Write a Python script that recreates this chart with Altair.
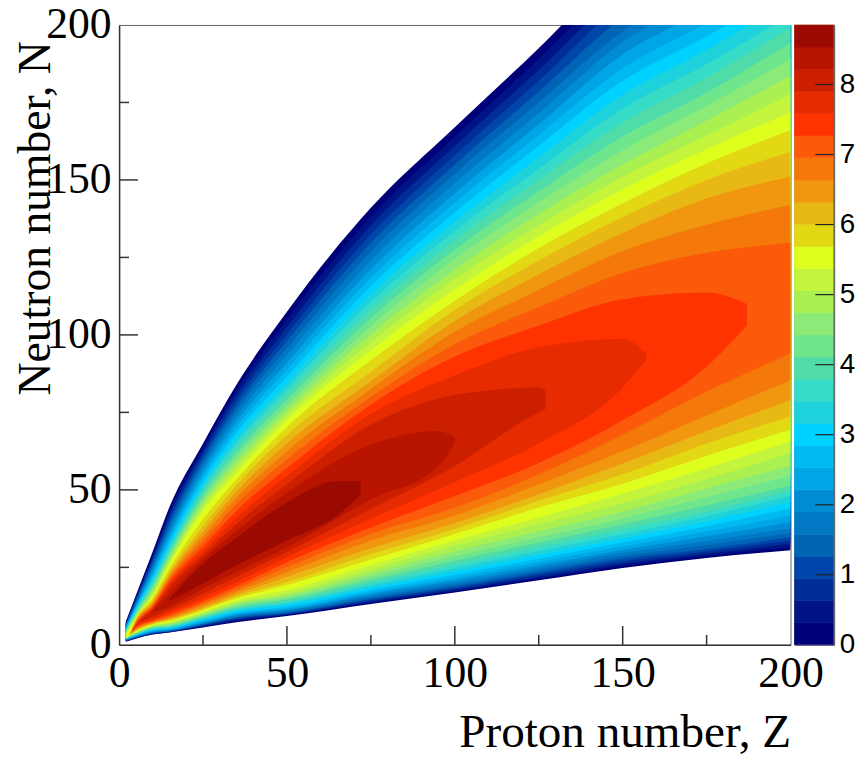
import altair as alt
import pandas as pd

Z_COLS = [2, 5, 10, 15, 25, 35, 50, 75, 100, 125, 150, 175, 200]
_ = None
LOW = [
 [1.0,2.0,3.3,4.0,5.6,7.3,9.3,13.2,16.9,20.8,24.8,28.0,30.5],
 [1.1,2.1,3.4,4.1,5.8,7.7,9.6,13.6,17.3,21.4,25.5,28.7,31.5],
 [1.2,2.2,3.6,4.2,6.0,8.1,9.8,14.0,17.7,21.9,26.2,29.4,32.6],
 [1.3,2.3,3.7,4.3,6.3,8.4,10.0,14.4,18.2,22.6,27.0,30.1,33.7],
 [1.4,2.4,3.8,4.4,6.5,8.7,10.3,14.8,18.7,23.2,27.8,30.9,34.7],
 [1.5,2.5,3.9,4.5,6.7,9.0,10.6,15.3,19.3,24.0,28.6,32.2,36.0],
 [1.6,2.65,4.1,4.7,6.9,9.3,11.0,15.8,20.0,24.8,29.6,33.5,37.5],
 [1.7,2.8,4.3,4.8,7.2,9.7,11.3,16.4,20.8,25.7,30.6,35.0,39.6],
 [1.75,2.9,4.5,5.0,7.5,10.0,11.8,17.0,21.6,26.7,31.8,36.6,41.7],
 [1.8,3.05,4.7,5.2,7.9,10.4,12.3,17.7,22.6,27.8,33.0,38.3,44.0],
 [1.85,3.2,4.9,5.4,8.2,10.8,12.9,18.4,23.6,29.0,34.3,39.8,46.0],
 [1.9,3.3,5.1,5.6,8.5,11.3,13.4,19.2,24.7,30.2,35.7,41.5,48.0],
 [2.0,3.45,5.3,5.8,8.8,11.7,13.9,20.0,25.9,31.5,37.2,43.0,49.7],
 [2.05,3.6,5.5,6.1,9.1,12.1,14.6,20.9,27.2,33.0,38.9,45.0,51.3],
 [2.1,3.75,5.7,6.4,9.5,12.7,15.2,21.9,28.6,34.7,40.8,47.7,54.5],
 [2.2,3.9,5.9,6.7,9.9,13.2,15.9,23.0,30.2,36.6,43.0,50.5,57.7],
 [2.25,4.0,6.1,7.0,10.3,13.7,16.6,24.3,32.0,38.9,45.7,53.5,62.0],
 [2.3,4.2,6.3,7.3,10.7,14.4,17.7,25.8,33.7,41.1,48.8,57.0,65.7],
 [_,4.4,6.6,7.7,11.2,15.0,19.3,27.5,35.8,44.3,52.0,61.0,69.4],
 [_,4.6,6.8,8.1,11.6,15.6,20.3,29.3,37.4,46.5,55.0,65.0,73.7],
 [_,4.8,7.0,8.4,12.0,16.3,22.0,31.2,39.3,48.6,58.5,69.0,79.0],
 [_,5.0,7.2,8.7,12.7,17.1,23.5,33.7,41.7,51.8,62.5,74.0,85.4],
 [_,5.3,7.5,9.1,13.3,18.0,25.1,35.8,44.3,55.0,67.8,81.7,94.0],
 [_,5.6,7.8,9.7,14.1,19.0,26.7,37.9,48.0,58.7,72.5,89.7,_],
 [_,6.0,8.2,10.4,15.2,20.3,28.3,40.6,52.5,65.0,83.0,_,_],
 [_,_,9.0,11.3,16.6,22.0,29.9,43.8,57.7,75.0,_,_,_],
 [_,_,_,12.3,18.2,23.5,31.5,47.0,_,_,_,_,_],
 [_,_,_,_,19.8,25.7,33.7,_,_,_,_,_,_],
]
HIGH = [
 [7.5,16,30,44.5,65,84,107.5,141,167,192.5,219,236,252],
 [7.3,15.5,29.1,43.1,63.7,82.3,105,138.2,164,189,215,232,247.5],
 [7,15,28.2,41.8,62.4,80.6,102.5,135.3,161,185.5,211,227.5,243],
 [6.7,14.5,27.3,40.5,61.1,78.9,100.2,132.5,158,182,207,223,239],
 [6.4,14,26.4,39.3,59.8,77.2,98,129.7,155,178.5,202.5,218.5,234.5],
 [6.2,13.5,25.5,38,58.5,75.5,95.7,126.9,152,175,198,214,230],
 [5.9,13,24.6,36.7,57.2,73.8,93.4,124,149,171.5,194.5,209.5,225.5],
 [5.6,12.6,23.7,35.5,55.8,72.1,91,121.2,145.7,168,190.5,205,221],
 [5.4,12.2,22.8,34.3,54.4,70.3,88.8,118.4,142.6,164.5,186,200.6,217],
 [5.2,11.8,21.9,33.2,53,68.5,86.5,115.8,139.5,161,182,196.3,212.5],
 [5,11.4,21.1,32.2,51.7,66.8,84.6,113.2,136.5,157.3,177.5,192,208],
 [4.8,11,20.3,31.2,50.5,65.2,82.7,110.6,133.5,153.6,173,187.3,203.5],
 [4.5,10.6,19.6,30.3,49.3,63.6,80.9,108,130.5,150,168.5,183,199],
 [4.2,10.2,18.8,29.4,48.1,62,79,105.4,127.5,146.3,164,178.2,194.2],
 [4,9.8,18,28.5,46.9,60.4,77.3,102.8,124.5,142.7,159.5,173.9,188.9],
 [3.8,9.4,17.2,27.6,45.7,58.8,75.7,100.2,121,139,155,169.1,183.5],
 [3.5,9,16.5,26.8,44.5,57.2,74.1,97.6,118,135.4,151,164.3,177.7],
 [3.2,8.7,15.8,26,43.3,55.5,72.6,95,114.7,131.8,147,159.9,171.8],
 [_,8.3,15,24.6,40.5,53.5,70.3,91.8,111,128,142.5,155.3,166],
 [_,8,14.3,23.5,38.3,51.5,67.7,88,108,124,138,150,159],
 [_,7.7,13.7,22.7,36.5,49.5,65,85,104.5,119.5,132.9,144,151],
 [_,7.4,13.2,21.9,34.9,47.5,62.5,82.5,101,114.5,127,135.5,141.9],
 [_,7.1,12.7,21.2,33.3,45.5,59.8,80,97,109,120,126.5,129.7],
 [_,6.8,12.3,20.3,31.7,43.3,57,77.5,93,103,111.5,113.7,_],
 [_,6.5,11.9,19.5,30.2,41,54.5,74.5,87,96,98.7,_,_],
 [_,_,11.4,18.5,28.9,39,51.8,71,80.6,83,_,_,_],
 [_,_,_,16.6,27.6,36.8,49,64.6,_,_,_,_,_],
 [_,_,_,_,26.2,34.5,46,_,_,_,_,_,_],
]
# contour ends: level -> (Z, lower N, upper N)
TIPS = {
 18: [(3, 2.9, 3.3)], 19: [(3.2, 3.2, 3.5)], 20: [(3.4, 3.5, 3.8)],
 21: [(3.6, 3.8, 4.1)], 22: [(3.8, 4.0, 4.4)],
 23: [(4.0, 4.3, 4.8), (187, 103, 110)],
 24: [(4.3, 4.6, 5.2), (157, 92, 94)],
 25: [(6.5, 7.5, 7.9), (127, 76, 82)],
 26: [(10, 10.4, 11), (95, 57.5, 69), (100, 65, 67)],
 27: [(15, 14.2, 14.8), (65, 41.7, 52.9), (72, 48.5, 52.8)],
}
BAND_COLORS = [
 "#000078", "#001487", "#002d96", "#0046aa", "#0064b4", "#0078c3", "#008cd2",
 "#00a5e6", "#00b9f0", "#00d2ff", "#1ed2dc", "#37dcc8", "#50dca8", "#70e68c",
 "#8ceb78", "#aaf050", "#c4f53c", "#deff1e", "#e2d814", "#e8b814", "#f0960f",
 "#f5780a", "#fa5a0a", "#ff3300", "#e62b00", "#cc1f00", "#b81400", "#9b0a00",
]
BAR_TOP = 8.85
BAR_TICKS = [0, 1, 2, 3, 4, 5, 6, 7, 8]
MAJOR_TICKS = [50, 100, 150]
MINOR_TICKS = [25, 75, 125, 175]
AXIS_VALUES = [0, 50, 100, 150, 200]

rows = []
for lev in range(28):
    pts = [(z, lo, hi) for z, lo, hi in zip(Z_COLS, LOW[lev], HIGH[lev]) if lo is not None]
    pts += TIPS.get(lev, [])
    for z, lo, hi in sorted(pts):
        rows.append({"level": lev, "Z": z, "low": lo, "high": hi})
df = pd.DataFrame(rows)

W, H = 677, 625
SERIF = "Liberation Serif"
xs = alt.Scale(domain=[0, 200], nice=False, zero=False)
ys = alt.Scale(domain=[0, 200], nice=False, zero=False)
X_AXIS = alt.Axis(
    values=AXIS_VALUES, grid=False, tickSize=0, labelFont=SERIF, labelFontSize=44,
    labelColor="black", labelPadding=7, labelOverlap=False, labelFlush=False,
    domainColor="#333333", domainWidth=1.5, title="Proton number, Z",
    titleFont=SERIF, titleFontSize=47.5, titleFontWeight="normal", titleColor="black",
    titleAlign="right", titleAnchor="end", titleBaseline="alphabetic",
    titleX=W, titleY=102)
Y_AXIS = alt.Axis(
    values=AXIS_VALUES, grid=False, tickSize=0, labelFont=SERIF, labelFontSize=44,
    labelColor="black", labelPadding=8, labelOverlap=False, labelFlush=False,
    domainColor="#333333", domainWidth=1.5, title="Neutron number, N",
    titleFont=SERIF, titleFontSize=46, titleFontWeight="normal", titleColor="black",
    titleAngle=270, titleAlign="right", titleAnchor="end", titleBaseline="alphabetic",
    titleX=-70, titleY=16)

areas = alt.Chart(df).mark_area(interpolate="monotone", clip=True).encode(
    x=alt.X("Z:Q", scale=xs, axis=X_AXIS),
    y=alt.Y("low:Q", scale=ys, stack=None, axis=Y_AXIS),
    y2="high:Q",
    color=alt.Color("level:O", legend=None,
                    scale=alt.Scale(domain=list(range(28)), range=BAND_COLORS)),
    order=alt.Order("level:Q"),
)

major = alt.Chart(pd.DataFrame({"t": MAJOR_TICKS}))
minor = alt.Chart(pd.DataFrame({"t": MINOR_TICKS}))
tick_style = dict(color="#333333", strokeWidth=1.5)
ticks = [
    major.mark_rule(**tick_style).encode(x=alt.X("t:Q", scale=xs, axis=X_AXIS),
                                         y=alt.value(H), y2=alt.value(H - 19)),
    minor.mark_rule(**tick_style).encode(x=alt.X("t:Q", scale=xs, axis=X_AXIS),
                                         y=alt.value(H), y2=alt.value(H - 10)),
    major.mark_rule(**tick_style).encode(y=alt.Y("t:Q", scale=ys, axis=Y_AXIS),
                                         x=alt.value(0), x2=alt.value(19)),
    minor.mark_rule(**tick_style).encode(y=alt.Y("t:Q", scale=ys, axis=Y_AXIS),
                                         x=alt.value(0), x2=alt.value(10)),
]
main = alt.layer(areas, *ticks).properties(width=W, height=H)

step = BAR_TOP / 28
bar_df = pd.DataFrame({"level": list(range(28)),
                       "v0": [i * step for i in range(28)],
                       "v1": [(i + 1) * step for i in range(28)]})
bs = alt.Scale(domain=[0, BAR_TOP], nice=False, zero=False)
BAR_AXIS = alt.Axis(
    orient="right", values=BAR_TICKS, title=None, grid=False, tickSize=0, domain=False,
    labelFont="Liberation Sans", labelFontSize=28, labelColor="black",
    labelPadding=5, labelOverlap=False, labelFlush=False)
bar_scale = alt.Scale(domain=list(range(28)), range=BAND_COLORS)
bar = alt.Chart(bar_df).mark_rect(strokeWidth=0.6).encode(
    x=alt.value(0), x2=alt.value(40),
    y=alt.Y("v0:Q", scale=bs, axis=BAR_AXIS),
    y2="v1:Q",
    color=alt.Color("level:O", legend=None, scale=bar_scale),
    stroke=alt.Stroke("level:O", legend=None, scale=bar_scale),
)
bar_ticks = alt.Chart(pd.DataFrame({"v": BAR_TICKS[1:]})).mark_rule(color="#222222", strokeWidth=1.2).encode(
    y=alt.Y("v:Q", scale=bs, axis=BAR_AXIS), x=alt.value(21), x2=alt.value(40))
bar_edge = alt.Chart(pd.DataFrame({"v": [0]})).mark_rule(color="#666666", strokeWidth=1.5).encode(
    x=alt.value(40), y=alt.value(0), y2=alt.value(H))
colorbar = alt.layer(bar, bar_ticks, bar_edge).properties(width=40, height=H)

chart = alt.hconcat(main, colorbar, spacing=4, bounds="flush").resolve_scale(
    color="independent", x="independent", y="independent"
).configure_view(stroke="#666666", strokeWidth=1).properties(
    padding={"left": 4, "top": -9, "right": 0, "bottom": 0}, background="white")

chart.save("out.html", embed_options={"renderer": "svg", "actions": False})
